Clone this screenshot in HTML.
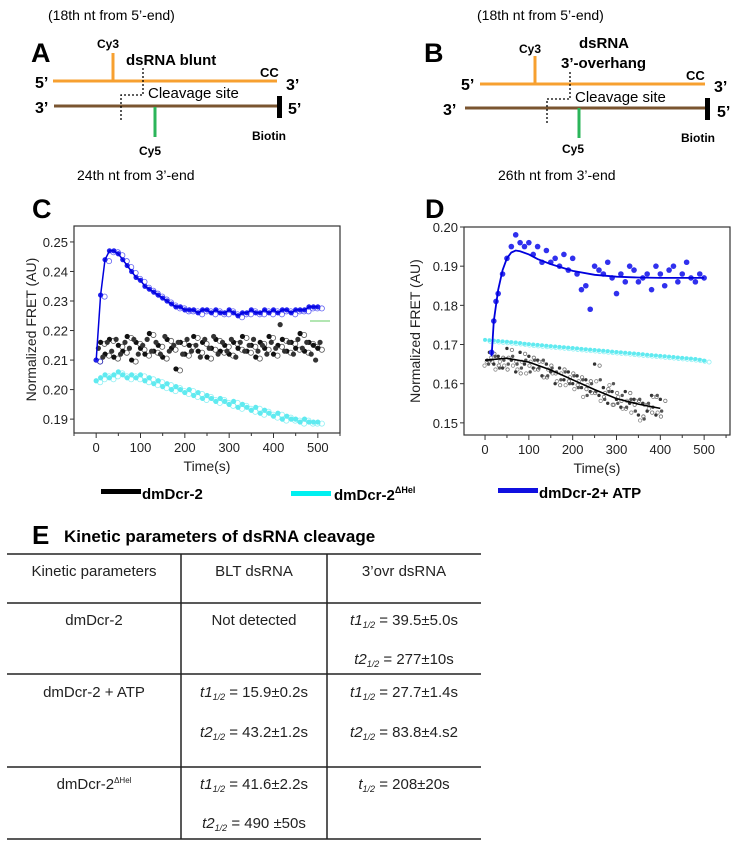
<!DOCTYPE html>
<html><head><meta charset="utf-8">
<style>
html,body{margin:0;padding:0;background:#fff;}
svg{display:block;font-family:"Liberation Sans",Arial,sans-serif;}
.b{font-weight:bold;}
</style></head>
<body>
<svg id="fig" width="738" height="847" viewBox="0 0 738 847" xmlns="http://www.w3.org/2000/svg">
<g>
<text x="48" y="20" font-size="14">(18th nt from 5’-end)</text>
<text x="31" y="62" font-size="27" class="b">A</text>
<text x="97" y="48" font-size="12" class="b">Cy3</text>
<text x="126" y="65" font-size="15" class="b">dsRNA blunt</text>
<line x1="53" y1="81" x2="277" y2="81" stroke="#f7a030" stroke-width="3"/>
<line x1="113" y1="53" x2="113" y2="81" stroke="#f7a030" stroke-width="3"/>
<line x1="54" y1="106" x2="279" y2="106" stroke="#7a5530" stroke-width="3"/>
<rect x="277" y="96" width="5" height="22" fill="#000"/>
<line x1="155" y1="107" x2="155" y2="137" stroke="#2bb55a" stroke-width="3"/>
<path d="M143 68 V95 H121 V121" fill="none" stroke="#000" stroke-width="1.3" stroke-dasharray="2,2"/>
<text x="148" y="98" font-size="15">Cleavage site</text>
<text x="35" y="88" font-size="16" class="b">5’</text>
<text x="35" y="113" font-size="16" class="b">3’</text>
<text x="260" y="77" font-size="13" class="b">CC</text>
<text x="286" y="90" font-size="16" class="b">3’</text>
<text x="288" y="114" font-size="16" class="b">5’</text>
<text x="139" y="155" font-size="12" class="b">Cy5</text>
<text x="252" y="140" font-size="12" class="b">Biotin</text>
<text x="77" y="180" font-size="14">24th nt from 3’-end</text>
</g>
<g>
<text x="477" y="20" font-size="14">(18th nt from 5’-end)</text>
<text x="424" y="62" font-size="27" class="b">B</text>
<text x="519" y="53" font-size="12" class="b">Cy3</text>
<text x="579" y="48" font-size="15" class="b">dsRNA</text>
<text x="561" y="68" font-size="15" class="b">3’-overhang</text>
<line x1="480" y1="84" x2="705" y2="84" stroke="#f7a030" stroke-width="3"/>
<line x1="535" y1="56" x2="535" y2="84" stroke="#f7a030" stroke-width="3"/>
<line x1="465" y1="108" x2="705" y2="108" stroke="#7a5530" stroke-width="3"/>
<rect x="705" y="98" width="5" height="22" fill="#000"/>
<line x1="579" y1="108" x2="579" y2="138" stroke="#2bb55a" stroke-width="3"/>
<path d="M570 72 V99 H547 V125" fill="none" stroke="#000" stroke-width="1.3" stroke-dasharray="2,2"/>
<text x="575" y="102" font-size="15">Cleavage  site</text>
<text x="461" y="90" font-size="16" class="b">5’</text>
<text x="443" y="115" font-size="16" class="b">3’</text>
<text x="686" y="80" font-size="13" class="b">CC</text>
<text x="714" y="92" font-size="16" class="b">3’</text>
<text x="717" y="117" font-size="16" class="b">5’</text>
<text x="562" y="153" font-size="12" class="b">Cy5</text>
<text x="681" y="142" font-size="12" class="b">Biotin</text>
<text x="498" y="180" font-size="14">26th nt from 3’-end</text>
</g>
<text x="32" y="218" font-size="27" class="b">C</text>
<text x="425" y="218" font-size="27" class="b">D</text>
<g id="chartC"></g>
<g id="chartD"></g>
<g>
<g>
<rect x="101" y="489" width="40" height="5" fill="#000"/>
<text x="142" y="499" font-size="15" class="b">dmDcr-2</text></g>
<g>
<rect x="291" y="491" width="40" height="5" fill="#00f0f0"/>
<text x="334" y="500" font-size="15" class="b">dmDcr-2<tspan font-size="9" dy="-7">ΔHel</tspan></text></g>
<g>
<rect x="498" y="488" width="40" height="5" fill="#1010e0"/>
<text x="539" y="498" font-size="15" class="b">dmDcr-2+ ATP</text></g>
</g>
<g font-size="15" fill="#222">
<text x="32" y="544" font-size="26" class="b" fill="#000">E</text>
<text x="64" y="542" font-size="17" class="b" fill="#000">Kinetic parameters of dsRNA cleavage</text>
<g stroke="#222" stroke-width="1.5">
<line x1="7" y1="554" x2="481" y2="554"/><line x1="7" y1="603" x2="481" y2="603"/>
<line x1="7" y1="674" x2="481" y2="674"/><line x1="7" y1="767" x2="481" y2="767"/>
<line x1="7" y1="839" x2="481" y2="839"/>
<line x1="181" y1="554" x2="181" y2="839"/><line x1="327" y1="554" x2="327" y2="839"/>
</g>
<g text-anchor="middle">
<text x="94" y="576">Kinetic  parameters</text>
<text x="254" y="576">BLT dsRNA</text>
<text x="404" y="576">3’ovr dsRNA</text>
<text x="94" y="625">dmDcr-2</text>
<text x="254" y="625">Not detected</text>
<text x="404" y="625"><tspan font-style="italic">t1</tspan><tspan font-size="9" dy="3" font-style="italic">1/2</tspan><tspan dy="-3"> = 39.5±5.0s</tspan></text>
<text x="404" y="664"><tspan font-style="italic">t2</tspan><tspan font-size="9" dy="3" font-style="italic">1/2</tspan><tspan dy="-3"> = 277±10s</tspan></text>
<text x="94" y="697">dmDcr-2 + ATP</text>
<text x="254" y="697"><tspan font-style="italic">t1</tspan><tspan font-size="9" dy="3" font-style="italic">1/2</tspan><tspan dy="-3"> = 15.9±0.2s</tspan></text>
<text x="254" y="737"><tspan font-style="italic">t2</tspan><tspan font-size="9" dy="3" font-style="italic">1/2</tspan><tspan dy="-3"> = 43.2±1.2s</tspan></text>
<text x="404" y="697"><tspan font-style="italic">t1</tspan><tspan font-size="9" dy="3" font-style="italic">1/2</tspan><tspan dy="-3"> = 27.7±1.4s</tspan></text>
<text x="404" y="737"><tspan font-style="italic">t2</tspan><tspan font-size="9" dy="3" font-style="italic">1/2</tspan><tspan dy="-3"> = 83.8±4.s2</tspan></text>
<text x="94" y="789">dmDcr-2<tspan font-size="8" dy="-6">ΔHel</tspan></text>
<text x="254" y="789"><tspan font-style="italic">t1</tspan><tspan font-size="9" dy="3" font-style="italic">1/2</tspan><tspan dy="-3"> = 41.6±2.2s</tspan></text>
<text x="254" y="828"><tspan font-style="italic">t2</tspan><tspan font-size="9" dy="3" font-style="italic">1/2</tspan><tspan dy="-3"> = 490 ±50s</tspan></text>
<text x="404" y="789"><tspan font-style="italic">t</tspan><tspan font-size="9" dy="3" font-style="italic">1/2</tspan><tspan dy="-3"> = 208±20s</tspan></text>
</g>
</g>
</svg>
<script>
const cTimes = [0,10,20,30,40,50,60,70,80,90,100,110,120,130,140,150,160,170,180,190,200,210,220,230,240,250,260,270,280,290,300,310,320,330,340,350,360,370,380,390,400,410,420,430,440,450,460,470,480,490,500];
const cBlue = [0.210,0.232,0.244,0.247,0.247,0.246,0.244,0.242,0.240,0.238,0.237,0.235,0.234,0.233,0.232,0.231,0.230,0.229,0.228,0.228,0.227,0.227,0.227,0.226,0.227,0.227,0.226,0.227,0.226,0.226,0.227,0.226,0.225,0.226,0.226,0.227,0.226,0.226,0.227,0.226,0.227,0.226,0.227,0.227,0.226,0.227,0.227,0.227,0.228,0.228,0.228];
const cBlack = [0.210,0.216,0.212,0.217,0.211,0.215,0.213,0.218,0.210,0.216,0.214,0.212,0.219,0.213,0.215,0.211,0.217,0.214,0.207,0.216,0.212,0.215,0.218,0.213,0.216,0.211,0.214,0.217,0.213,0.215,0.212,0.216,0.214,0.218,0.213,0.215,0.211,0.216,0.214,0.218,0.212,0.215,0.217,0.213,0.216,0.214,0.219,0.213,0.216,0.215,0.214];
const cBlack2 = [0.214,0.211,0.216,0.213,0.217,0.212,0.216,0.214,0.217,0.212,0.215,0.217,0.213,0.216,0.212,0.218,0.213,0.215,0.216,0.212,0.217,0.213,0.215,0.211,0.217,0.214,0.218,0.212,0.216,0.213,0.217,0.211,0.216,0.213,0.215,0.217,0.213,0.215,0.212,0.216,0.214,0.222,0.213,0.216,0.212,0.217,0.214,0.216,0.212,0.210,0.216];
const cCyan = [0.203,0.204,0.205,0.204,0.205,0.206,0.205,0.204,0.205,0.204,0.205,0.203,0.204,0.202,0.203,0.201,0.202,0.200,0.201,0.200,0.199,0.200,0.198,0.199,0.197,0.198,0.197,0.196,0.197,0.196,0.195,0.196,0.194,0.195,0.194,0.193,0.194,0.192,0.193,0.192,0.191,0.192,0.190,0.191,0.190,0.190,0.189,0.190,0.189,0.189,0.189];
const cYTicks = [0.19,0.20,0.21,0.22,0.23,0.24,0.25];
const cYLabels = ["0.19","0.20","0.21","0.22","0.23","0.24","0.25"];
const xTicks = [0,100,200,300,400,500];
const xLabels = ["0","100","200","300","400","500"];
const dBlueTimes = [15,20,25,30,40,50,60,70,80,90,100,110,120,130,140,150,160,170,180,190,200,210,220,230,240,250,260,270,280,290,300,310,320,330,340,350,360,370,380,390,400,410,420,430,440,450,460,470,480,490,500];
const dBlue = [0.168,0.176,0.181,0.183,0.188,0.192,0.195,0.198,0.196,0.195,0.196,0.193,0.195,0.191,0.194,0.191,0.192,0.190,0.193,0.189,0.192,0.188,0.184,0.185,0.179,0.190,0.189,0.188,0.191,0.187,0.183,0.188,0.186,0.190,0.189,0.186,0.187,0.188,0.184,0.190,0.188,0.185,0.189,0.190,0.186,0.188,0.191,0.187,0.186,0.188,0.187];
const dBlueFitTimes = [15,20,30,40,50,60,70,80,100,120,150,200,250,300,350,400,450,500];
const dBlueFit = [0.167,0.176,0.184,0.189,0.192,0.1935,0.194,0.1938,0.193,0.1918,0.1905,0.1888,0.1878,0.1873,0.1871,0.187,0.187,0.187];
const dCyan = [0.1712,0.1711,0.1710,0.1709,0.1708,0.1707,0.1706,0.1705,0.1704,0.1702,0.1701,0.1700,0.1699,0.1698,0.1697,0.1696,0.1695,0.1694,0.1693,0.1692,0.1691,0.1690,0.1689,0.1688,0.1687,0.1686,0.1685,0.1684,0.1683,0.1682,0.1681,0.1680,0.1679,0.1678,0.1677,0.1676,0.1675,0.1674,0.1673,0.1672,0.1671,0.1670,0.1669,0.1668,0.1667,0.1666,0.1665,0.1664,0.1663,0.1661,0.1659];
const dBlackTimes = [5,10,20,30,40,50,60,70,80,90,100,110,120,130,140,150,160,170,180,190,200,210,220,230,240,250,260,270,280,290,300,310,320,330,340,350,360,370,380,390,400];
const dBlack = [0.166,0.168,0.165,0.167,0.164,0.169,0.166,0.163,0.168,0.165,0.167,0.164,0.166,0.162,0.165,0.163,0.160,0.164,0.161,0.163,0.160,0.162,0.159,0.161,0.158,0.165,0.157,0.159,0.155,0.158,0.156,0.154,0.158,0.155,0.156,0.152,0.155,0.153,0.157,0.152,0.156];
const dBlack2 = [0.165,0.166,0.167,0.164,0.166,0.165,0.167,0.165,0.164,0.166,0.163,0.166,0.164,0.166,0.162,0.164,0.163,0.161,0.163,0.160,0.162,0.159,0.161,0.157,0.160,0.158,0.161,0.156,0.158,0.160,0.155,0.157,0.154,0.156,0.153,0.156,0.151,0.155,0.154,0.157,0.153];
const dBlackFitTimes = [0,50,100,150,200,250,300,350,400];
const dBlackFit = [0.166,0.1665,0.1655,0.1635,0.161,0.1585,0.1562,0.1548,0.1537];
const dYTicks = [0.15,0.16,0.17,0.18,0.19,0.20];
const dYLabels = ["0.15","0.16","0.17","0.18","0.19","0.20"];

const NS = "http://www.w3.org/2000/svg";
function mk(parent, tag, attrs){ const e=document.createElementNS(NS,tag); for(const k in attrs) e.setAttribute(k,attrs[k]); parent.appendChild(e); return e; }

function drawChart(g, cfg){
  const xs = v => cfg.x0 + (v - cfg.xmin) / (cfg.xmax - cfg.xmin) * (cfg.x1 - cfg.x0);
  const ys = v => cfg.y1 - (v - cfg.ymin) / (cfg.ymax - cfg.ymin) * (cfg.y1 - cfg.y0);
  const frame = mk(g,'rect',{x:cfg.x0,y:cfg.y0,width:cfg.x1-cfg.x0,height:cfg.y1-cfg.y0,fill:'none',stroke:'#333','stroke-width':1.2});
  
  
  cfg.yTicks.forEach((v,i)=>{
    const t = mk(g,'line',{x1:cfg.x0-4,x2:cfg.x0,y1:ys(v),y2:ys(v),stroke:'#333'});
    
    
    const l = mk(g,'text',{x:cfg.x0-6,y:ys(v)+5,'text-anchor':'end','font-size':13,fill:'#222'});
    l.textContent = cfg.yLabels[i];
    
    
  });
  for(let v=-50; v<=cfg.xmax; v+=50){
    if(v<cfg.xmin) continue;
    const major = v%100===0 && v>=0;
    const t = mk(g,'line',{x1:xs(v),x2:xs(v),y1:cfg.y1,y2:cfg.y1+(major?5:3),stroke:'#333'});
    
    
  }
  xTicks.forEach((v,i)=>{
    const l = mk(g,'text',{x:xs(v),y:cfg.y1+19,'text-anchor':'middle','font-size':13,fill:'#222'});
    l.textContent = xLabels[i];
    
    
  });
  const xt = mk(g,'text',{x:(cfg.x0+cfg.x1)/2,y:cfg.y1+38,'text-anchor':'middle','font-size':14,fill:'#222'});
  xt.textContent='Time(s)';
  
  
  const yc=(cfg.y0+cfg.y1)/2;
  const yt = mk(g,'text',{x:cfg.ytx,y:yc,'text-anchor':'middle','font-size':14,fill:'#222',transform:`rotate(-90 ${cfg.ytx} ${yc})`});
  yt.textContent='Normalized FRET (AU)';
  
  
  cfg.series.forEach(s=>{
    const sg = mk(g,'g',{});
    
    
    if(s.line){
      const pts = s.t.map((t,i)=>xs(t).toFixed(1)+','+ys(s.v[i]).toFixed(1)).join(' ');
      const pl = mk(sg,'polyline',{points:pts,fill:'none',stroke:s.color,'stroke-width':s.w||1.5});
      
      
    } else {
      s.v.forEach((v,i)=>{
        const c = mk(sg,'circle',{cx:xs(s.t[i]),cy:ys(v),r:s.r,fill:s.color,stroke:s.stroke||'none','stroke-width':0.6});
        
        
        if(s.dup){
          const c2 = mk(sg,'circle',{cx:xs(s.t[i])+s.dup,cy:ys(v)+1.5,r:s.r,fill:'none',stroke:s.color,'stroke-width':0.8,opacity:0.7});
          
          
        }
      });
    }
  });
}

const cBlackTimes2 = cTimes.map(t=>t+5);
drawChart(document.getElementById('chartC'),{
  x0:74,x1:340,y0:226,y1:433,xmin:-50,xmax:550,ymin:0.1853,ymax:0.2554,ytx:36,
  yTicks:cYTicks,yLabels:cYLabels,
  series:[
    {name:'series-dmdcr2-dhel',t:cTimes,v:cCyan,color:'#60eaf0',r:2.6,dup:4},
    {name:'series-dmdcr2',t:cTimes,v:cBlack,color:'#111',r:2.6,dup:4},
    {name:'series-dmdcr2-b',t:cBlackTimes2,v:cBlack2,color:'#333',r:2.6},
    {name:'series-dmdcr2-atp',t:cTimes,v:cBlue,color:'#2020ee',r:2.6,dup:4},
    {name:'fit-dmdcr2-atp',t:cTimes,v:cBlue,color:'#0000dd',line:true,w:1.5}
  ]
});
const gl = mk(document.getElementById('chartC'),'line',{x1:310,x2:330,y1:321,y2:321,stroke:'#6c6','stroke-width':1});


drawChart(document.getElementById('chartD'),{
  x0:464,x1:730,y0:227,y1:435,xmin:-48,xmax:559,ymin:0.1469,ymax:0.2,ytx:420,
  yTicks:dYTicks,yLabels:dYLabels,
  series:[
    {name:'series-dmdcr2-dhel',t:cTimes,v:dCyan,color:'#60eaf0',r:2,dup:5},
    {name:'series-dmdcr2',t:dBlackTimes,v:dBlack,color:'#333',r:1.7,dup:5},
    {name:'series-dmdcr2-b',t:dBlackTimes.map(t=>t+3),v:dBlack2,color:'#555',r:1.7,dup:-4},
    {name:'fit-dmdcr2',t:dBlackFitTimes,v:dBlackFit,color:'#000',line:true,w:1.6},
    {name:'series-dmdcr2-atp',t:dBlueTimes,v:dBlue,color:'#3030ee',r:2.8},
    {name:'fit-dmdcr2-atp',t:dBlueFitTimes,v:dBlueFit,color:'#0000dd',line:true,w:1.8}
  ]
});
</script>
</body></html>
